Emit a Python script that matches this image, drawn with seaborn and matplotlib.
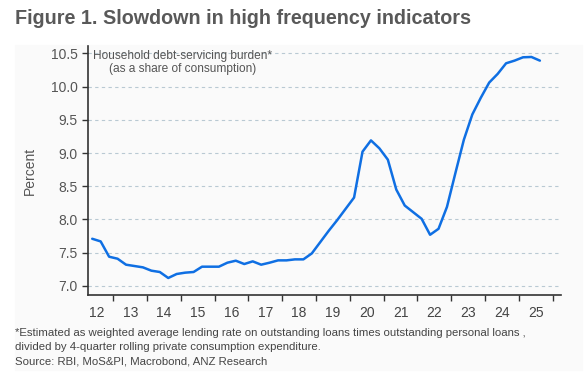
import pandas as pd
import matplotlib.pyplot as plt
import matplotlib.patches as mpatches
from matplotlib.ticker import FixedLocator, NullFormatter
import seaborn as sns

# quarterly data, 2012Q2 .. 2025Q3
quarters = pd.period_range('2012Q2', '2025Q3', freq='Q')
burden = [7.71, 7.67, 7.44, 7.41, 7.32, 7.30, 7.28, 7.23, 7.21, 7.12,
          7.18, 7.20, 7.21, 7.29, 7.29, 7.29, 7.35, 7.38, 7.33, 7.37,
          7.32, 7.35, 7.385, 7.385, 7.40, 7.40, 7.49, 7.66, 7.83, 7.99,
          8.16, 8.33, 9.02, 9.19, 9.07, 8.90, 8.45, 8.21, 8.11, 8.01,
          7.77, 7.86, 8.19, 8.70, 9.20, 9.58, 9.83, 10.06, 10.19, 10.35,
          10.39, 10.44, 10.445, 10.39]
years = list(range(2012, 2026))
year_labels = [str(y)[2:] for y in years]
yticks = [7.0, 7.5, 8.0, 8.5, 9.0, 9.5, 10.0, 10.5]

df = pd.DataFrame({
    'when': [q.year + (q.quarter - 1) / 4 + 0.125 for q in quarters],
    'burden': burden,
})

sns.set_style('white')
plt.rcParams['font.family'] = ['Liberation Sans', 'DejaVu Sans']

fig = plt.figure(figsize=(5.88, 3.76), dpi=100)
fig.patches.append(mpatches.Rectangle((15 / 588, 6 / 376), 567 / 588, 325 / 376,
                                      transform=fig.transFigure, color='#fafafa',
                                      zorder=-5))
ax = fig.add_axes([88 / 588, 81 / 376, 473 / 588, 249 / 376])
ax.set_facecolor('none')

sns.lineplot(data=df, x='when', y='burden', ax=ax, color='#0f6fe3', linewidth=1.8)

ax.set_xlim(2012.25, 2026.25)
ax.set_ylim(6.864, 10.61)

ax.set_yticks(yticks)
ax.set_yticklabels([f'{v:.1f}' for v in yticks])
ax.yaxis.grid(True, linestyle=(0, (3, 3)), color='#b9c9d3', linewidth=0.8)
ax.xaxis.grid(False)

ax.xaxis.set_major_locator(FixedLocator([y + 0.5 for y in years]))
ax.set_xticklabels(year_labels)
ax.xaxis.set_minor_locator(FixedLocator(years[1:] + [2026]))
ax.xaxis.set_minor_formatter(NullFormatter())
ax.tick_params(axis='x', which='major', length=0, labelsize=10, labelcolor='#444444', pad=8)
ax.tick_params(axis='x', which='minor', bottom=True, length=4, width=1,
               color='#333333', direction='out')
ax.tick_params(axis='y', length=4, width=1, color='#333333', labelsize=10,
               labelcolor='#555555', left=True, direction='out')

for side in ['top', 'right']:
    ax.spines[side].set_visible(False)
for side in ['left', 'bottom']:
    ax.spines[side].set_color('#333333')
    ax.spines[side].set_linewidth(1.2)

ax.set_xlabel('')
ax.set_ylabel('Percent', fontsize=10, color='#555555', labelpad=10)

ax.text(0.01, 0.985, 'Household debt-servicing burden*\n(as a share of consumption)',
        transform=ax.transAxes, ha='left', va='top', fontsize=8.6,
        color='#555555', multialignment='center', linespacing=1.1)

fig.text(15 / 588, 1 - 18 / 376, 'Figure 1. Slowdown in high frequency indicators',
         fontsize=14.2, fontweight='bold', color='#595959', ha='left', va='center')

fig.text(15 / 588, 1 - 328 / 376,
         '*Estimated as weighted average lending rate on outstanding loans times outstanding personal loans ,\n'
         'divided by 4-quarter rolling private consumption expenditure.\n'
         'Source: RBI, MoS&PI, Macrobond, ANZ Research',
         fontsize=8.2, color='#444444', ha='left', va='top', linespacing=1.55)

fig.savefig('out.png', dpi=100)
